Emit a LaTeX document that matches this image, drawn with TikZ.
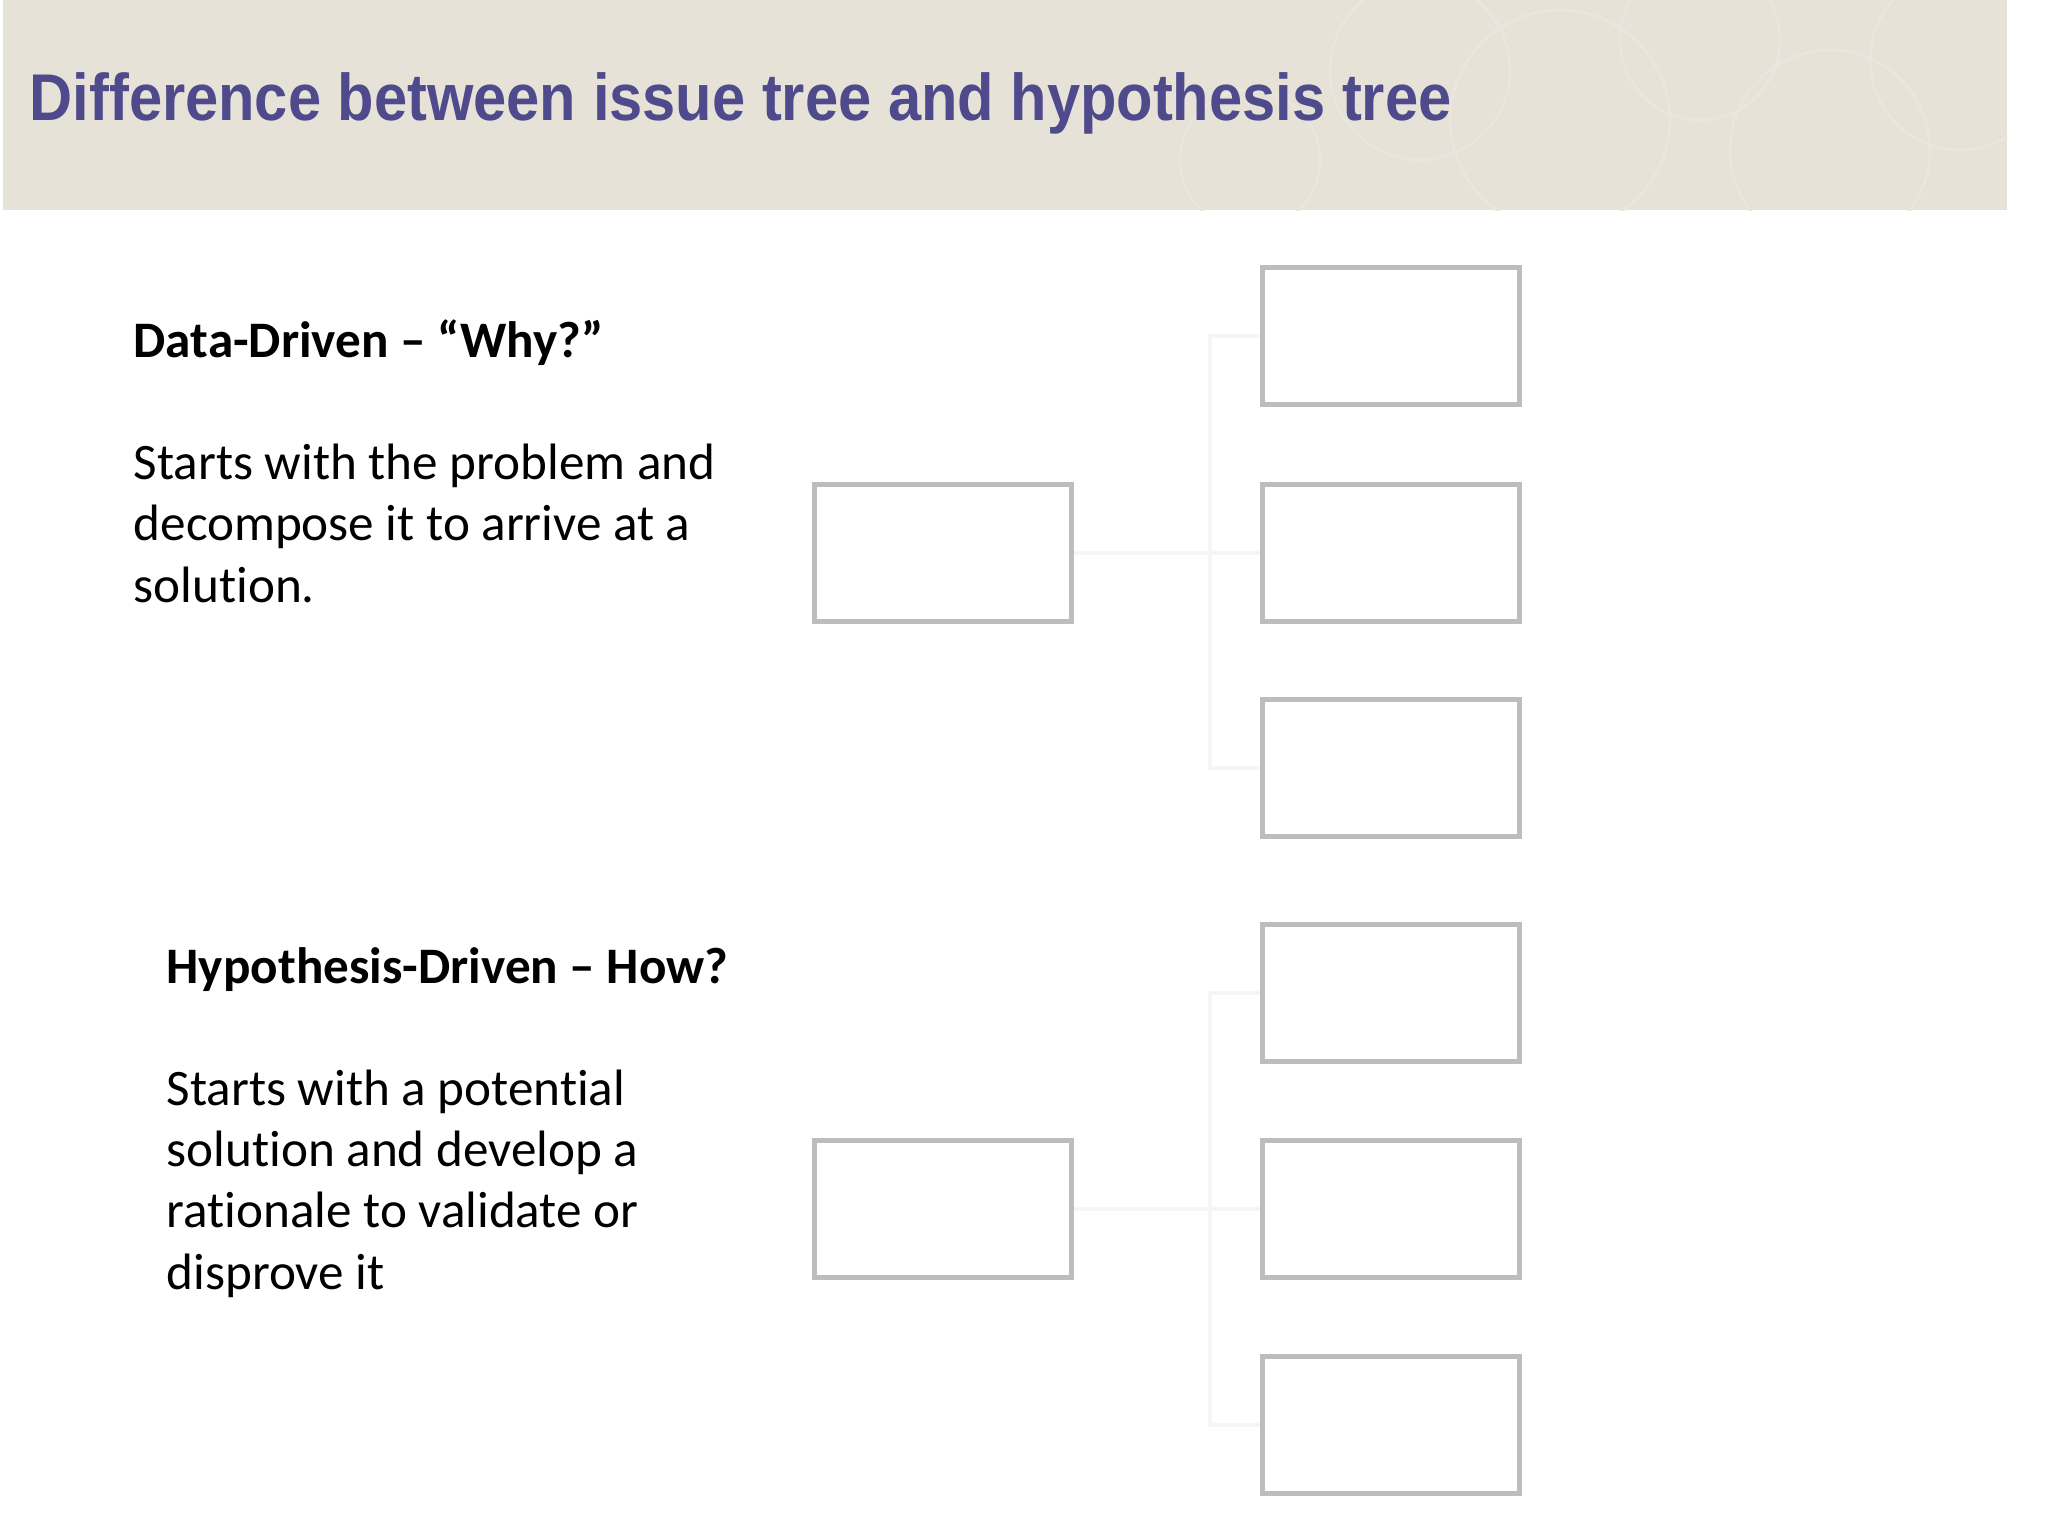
\documentclass[tikz,border=0pt]{standalone}
\usepackage{fontspec}
\setmainfont{Carlito}[Ligatures=NoCommon]
\newfontfamily\titlefont{Liberation Sans}
\usepackage{xcolor}
\usepackage{graphicx}
\usepackage{tikz}

\definecolor{headbg}{RGB}{230,226,216}
\definecolor{headring}{RGB}{233,230,221}
\definecolor{titleblue}{RGB}{79,74,140}
\definecolor{boxgray}{RGB}{189,188,191}
\definecolor{linkwhite}{RGB}{246,245,248}

\begin{document}
\begin{tikzpicture}[x=0.01cm, y=-0.01cm,
    leaf/.style={draw=boxgray, line width=1.4pt, fill=white, rectangle,
                 minimum width=2.57cm, minimum height=1.37cm, inner sep=0pt},
    link/.style={draw=linkwhite, line width=1.1pt},
    txt/.style={anchor=base west, align=left, inner sep=0pt,
                font=\fontsize{14.55}{17.4}\selectfont}]

            % page and header band
            \fill[white] (0,0) rectangle (2048,1536);
            \useasboundingbox (0,0) rectangle (2048,1536);
            \fill[headbg] (3,0) rectangle (2007,210);
            \begin{scope}
                \clip (3,0) rectangle (2007,210);
                \draw[headring, line width=0.8pt] (1420,70) circle (90);
                \draw[headring, line width=0.8pt] (1560,120) circle (110);
                \draw[headring, line width=0.8pt] (1700,40) circle (80);
                \draw[headring, line width=0.8pt] (1830,150) circle (100);
                \draw[headring, line width=0.8pt] (1960,60) circle (90);
                \draw[headring, line width=0.8pt] (1250,160) circle (70);
            \end{scope}
            \node[anchor=base west, inner sep=0pt, text=titleblue,
                  font=\titlefont\bfseries\fontsize{18.8}{22}\selectfont] (title) at (29,120)
                {\scalebox{0.902}[1]{Difference between issue tree and hypothesis tree}};

            % issue tree
            \node[txt] (dhead) at (133,357) {\textbf{Data-Driven – “Why?”}};
            \node[txt] (dtext) at (133,602) {Starts with the problem and\\decompose it to arrive at a\\solution.};

            \node[leaf] (issue) at (943,553) {};
            \node[leaf] (i1) at (1391,336) {};
            \node[leaf] (i2) at (1391,553) {};
            \node[leaf] (i3) at (1391,768) {};

            \draw[link] (issue.east) -- (i2.west);
            \draw[link] (i1.west) -- ++(-50,0) |- (i3.west);

            % hypothesis tree
            \node[txt] (hhead) at (166,983) {\textbf{Hypothesis-Driven – How?}};
            \node[txt] (htext) at (166,1289) {Starts with a potential\\solution and develop a\\rationale to validate or\\disprove it};

            \node[leaf] (hyp) at (943,1209) {};
            \node[leaf] (h1) at (1391,993) {};
            \node[leaf] (h2) at (1391,1209) {};
            \node[leaf] (h3) at (1391,1425) {};

            \draw[link] (hyp.east) -- (h2.west);
            \draw[link] (h1.west) -- ++(-50,0) |- (h3.west);
\end{tikzpicture}
\end{document}
